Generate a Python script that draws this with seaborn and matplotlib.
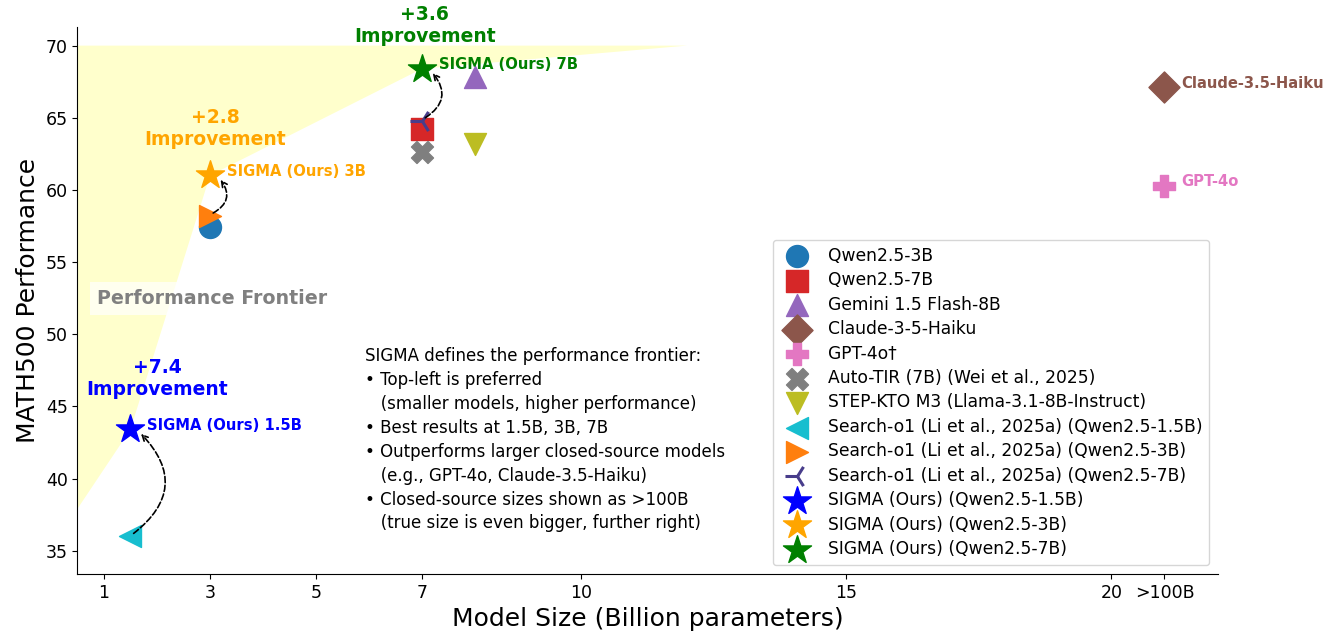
import numpy as np
import matplotlib
matplotlib.use('Agg')
import matplotlib.pyplot as plt
import seaborn as sns

# model sizes (billions, closed-source placed at the ">100B" slot = 21) and MATH500 scores
models = ['Qwen2.5-3B', 'Qwen2.5-7B', 'Gemini 1.5 Flash-8B', 'Claude-3-5-Haiku', 'GPT-4o\u2020',
          'Auto-TIR (7B) (Wei et al., 2025)', 'STEP-KTO M3 (Llama-3.1-8B-Instruct)',
          'Search-o1 (Li et al., 2025a) (Qwen2.5-1.5B)', 'Search-o1 (Li et al., 2025a) (Qwen2.5-3B)',
          'Search-o1 (Li et al., 2025a) (Qwen2.5-7B)',
          'SIGMA (Ours) (Qwen2.5-1.5B)', 'SIGMA (Ours) (Qwen2.5-3B)', 'SIGMA (Ours) (Qwen2.5-7B)']
sizes = [3, 7, 8, 21, 21, 7, 8, 1.5, 3, 7, 1.5, 3, 7]
scores = [57.4, 64.2, 67.8, 67.1, 60.3, 62.6, 63.2, 36.0, 58.2, 64.8, 43.4, 61.0, 68.4]

# styling per model
colors = ['tab:blue', 'tab:red', 'tab:purple', 'tab:brown', 'tab:pink', 'tab:gray', 'tab:olive',
          'tab:cyan', 'tab:orange', 'darkslateblue', 'blue', 'orange', 'green']
markers = ['o', 's', '^', 'D', 'P', 'X', 'v', '<', '>', '3', '*', '*', '*']

xtick_pos = [1, 3, 5, 7, 10, 15, 20, 21]
xtick_labels = ['1', '3', '5', '7', '10', '15', '20', '>100B']

# improvements: baseline index -> sigma index
improvements = [(7, 10, '+7.4', 'blue'), (8, 11, '+2.8', 'orange'), (9, 12, '+3.6', 'green')]

sns.set_style('ticks', {'axes.edgecolor': 'black', 'text.color': 'black', 'axes.labelcolor': 'black',
                        'xtick.color': 'black', 'ytick.color': 'black'})
fig, ax = plt.subplots(figsize=(13.35, 6.39), dpi=100)
fig.subplots_adjust(left=0.058, right=0.912, top=0.958, bottom=0.102)

# performance frontier shading
frontier_x = [0.5, 12, sizes[12], sizes[11], sizes[10], 0.5]
frontier_y = [70, 70, scores[12], scores[11], scores[10], 37.9]
ax.fill(frontier_x, frontier_y, color='yellow', alpha=0.2, lw=0, zorder=0)
ax.text(0.87, 52.5, 'Performance Frontier', fontsize=13.7, fontweight='bold', color='gray',
        va='center', ha='left', bbox=dict(facecolor='white', edgecolor='none', alpha=0.7, pad=5))

for i in range(len(models)):
    s = 450 if markers[i] == '*' else 250
    if markers[i] == '3':
        ax.scatter([sizes[i]], [scores[i]], marker='3', color=colors[i], s=300, linewidths=2.2,
                   label=models[i], zorder=3)
    else:
        sns.scatterplot(x=[sizes[i]], y=[scores[i]], marker=markers[i], color=colors[i], s=s,
                        edgecolor=colors[i], linewidth=1, label=models[i], ax=ax, zorder=3)

# point labels
point_labels = [(10, 'SIGMA (Ours) 1.5B', 'blue'), (11, 'SIGMA (Ours) 3B', 'orange'),
                (12, 'SIGMA (Ours) 7B', 'green'), (3, 'Claude-3.5-Haiku', 'tab:brown'),
                (4, 'GPT-4o', 'tab:pink')]
for idx, txt, c in point_labels:
    ax.annotate(txt, (sizes[idx], scores[idx]), xytext=(12, 3), textcoords='offset points',
                fontsize=10.6, fontweight='bold', color=c, va='center', ha='left')

# improvement arrows and labels
imp_text_pos = {'+7.4': (2.0, 46.9), '+2.8': (3.1, 64.25), '+3.6': (7.05, 71.4)}
for b, t, txt, c in improvements:
    ax.annotate('', xy=(sizes[t] + 0.2, scores[t] - 0.3), xytext=(sizes[b] + 0.06, scores[b] + 0.2),
                arrowprops=dict(arrowstyle='->', linestyle='--', color='black', lw=1.2,
                                connectionstyle='arc3,rad=0.55', shrinkA=0, shrinkB=0))
    tx, ty = imp_text_pos[txt]
    ax.text(tx, ty, txt + '\nImprovement', fontsize=13.5, fontweight='bold', color=c,
            ha='center', va='center', clip_on=False)

note = ('SIGMA defines the performance frontier:\n'
        '\u2022 Top-left is preferred\n'
        '   (smaller models, higher performance)\n'
        '\u2022 Best results at 1.5B, 3B, 7B\n'
        '\u2022 Outperforms larger closed-source models\n'
        '   (e.g., GPT-4o, Claude-3.5-Haiku)\n'
        '\u2022 Closed-source sizes shown as >100B\n'
        '   (true size is even bigger, further right)')
ax.text(5.92, 49.1, note, fontsize=12, va='top', ha='left', linespacing=1.42)

ax.set_xlim(0.5, 22)
ax.set_ylim(33.4, 71.3)
ax.set_xticks(xtick_pos)
ax.set_xticklabels(xtick_labels)
ax.set_yticks(range(35, 71, 5))
ax.tick_params(labelsize=12.5)
ax.set_xlabel('Model Size (Billion parameters)', fontsize=18)
ax.set_ylabel('MATH500 Performance', fontsize=18)
sns.despine(ax=ax)

ax.legend(loc='lower right', fontsize=12.3, labelspacing=0.38, borderaxespad=0.5,
          handletextpad=0.8)

fig.savefig('out.png', dpi=100)
